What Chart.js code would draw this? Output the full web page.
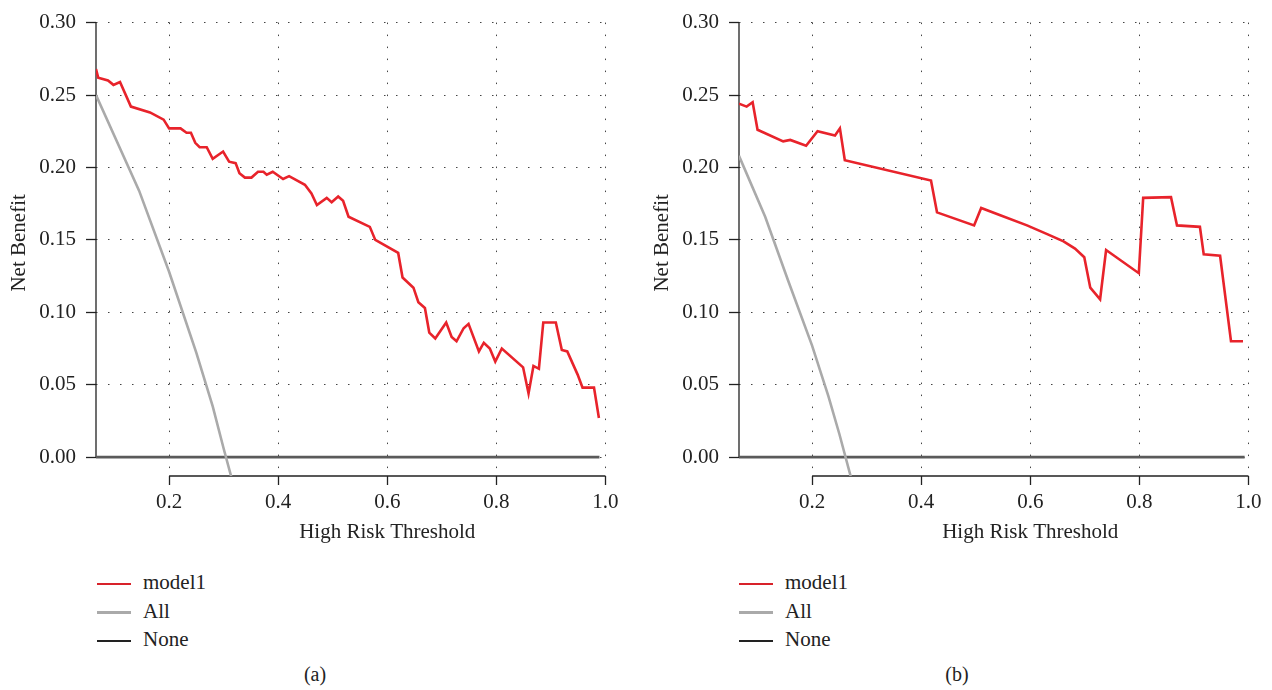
<!DOCTYPE html>
<html>
<head>
<meta charset="utf-8">
<script src="https://cdn.jsdelivr.net/npm/chart.js@4.4.1/dist/chart.umd.min.js"></script>
<style>
    body { margin:0; background:#fff; width:1272px; height:690px; overflow:hidden; position:relative;
           font-family:'Liberation Serif', serif; color:#222; }
    .panel { position:absolute; top:0; }
    .legend { position:absolute; top:568px; font-size:21px; }
    .legend div { height:28.5px; line-height:28.5px; white-space:nowrap; }
    .legend .swatch { display:inline-block; width:34px; height:2.5px; vertical-align:middle; margin-right:12px; }
    .caption { position:absolute; top:663px; width:60px; text-align:center; font-size:20px; }
</style>
</head>
<body>
<div class="panel" style="left:0;width:636px;height:555px;"><canvas id="chartA"></canvas></div>
<div class="panel" style="left:643px;width:629px;height:555px;"><canvas id="chartB"></canvas></div>
<div class="legend" id="legendA" style="left:97px;"></div>
<div class="legend" id="legendB" style="left:739px;"></div>
<div class="caption" style="left:285px;">(a)</div>
<div class="caption" style="left:927px;">(b)</div>
<script>
// ---- data ----
var seriesNames = ['model1', 'All', 'None'];
var seriesColors = ['#e8232b', '#aaaaaa', '#5a5a5a'];
var legendColors = ['#d8222a', '#aaaaaa', '#222222'];

// panel (a)
var thrA = [0.066, 0.070, 0.088, 0.098, 0.110, 0.130, 0.165, 0.190, 0.200, 0.221, 0.232, 0.240, 0.248, 0.256, 0.269,
            0.280, 0.299, 0.310, 0.322, 0.329, 0.339, 0.351, 0.363, 0.373, 0.379, 0.390, 0.409, 0.420, 0.449, 0.461,
            0.471, 0.489, 0.498, 0.510, 0.519, 0.529, 0.568, 0.578, 0.620, 0.628, 0.648, 0.657, 0.669, 0.677, 0.688,
            0.708, 0.718, 0.727, 0.740, 0.749, 0.768, 0.777, 0.788, 0.798, 0.810, 0.849, 0.859, 0.868, 0.878, 0.886,
            0.909, 0.920, 0.930, 0.949, 0.958, 0.979, 0.988];
var model1A = [0.268, 0.262, 0.260, 0.257, 0.259, 0.242, 0.238, 0.233, 0.227, 0.227, 0.224, 0.224, 0.217, 0.214, 0.214,
               0.206, 0.211, 0.204, 0.203, 0.196, 0.193, 0.193, 0.197, 0.197, 0.195, 0.197, 0.192, 0.194, 0.188, 0.182,
               0.174, 0.179, 0.176, 0.180, 0.177, 0.166, 0.159, 0.150, 0.141, 0.124, 0.117, 0.107, 0.103, 0.086, 0.082,
               0.093, 0.083, 0.080, 0.089, 0.092, 0.073, 0.079, 0.075, 0.066, 0.075, 0.062, 0.044, 0.063, 0.061, 0.093,
               0.093, 0.074, 0.073, 0.057, 0.048, 0.048, 0.027];
var allThrA = [0.066, 0.145, 0.200, 0.250, 0.280, 0.300, 0.315];
var allA = [0.250, 0.184, 0.128, 0.072, 0.035, 0.006, -0.015];
var noneThrA = [0.066, 0.989];
var noneA = [0, 0];

// panel (b)
var thrB = [0.066, 0.080, 0.091, 0.100, 0.147, 0.160, 0.189, 0.210, 0.242, 0.251, 0.260, 0.418, 0.429, 0.497, 0.510,
            0.545, 0.594, 0.631, 0.661, 0.682, 0.699, 0.710, 0.728, 0.739, 0.799, 0.807, 0.858, 0.869, 0.911, 0.918,
            0.948, 0.968, 0.990];
var model1B = [0.244, 0.242, 0.245, 0.226, 0.218, 0.219, 0.215, 0.225, 0.222, 0.227, 0.205, 0.191, 0.169, 0.160, 0.172,
               0.167, 0.160, 0.154, 0.149, 0.144, 0.138, 0.117, 0.109, 0.143, 0.127, 0.179, 0.1795, 0.160, 0.159, 0.140,
               0.139, 0.080, 0.080];
var allThrB = [0.066, 0.114, 0.156, 0.200, 0.230, 0.250, 0.272];
var allB = [0.208, 0.166, 0.122, 0.077, 0.042, 0.016, -0.015];
var noneThrB = [0.066, 0.993];
var noneB = [0, 0];

var xTitle = 'High Risk Threshold', yTitle = 'Net Benefit';
var xTickStep = 0.2, yTickStep = 0.05;
var xMin = 0.066, xMax = 1.012, yMin = -0.013, yMax = 0.30;
var xAxisFrom = 0.2, xAxisTo = 1.0;

Chart.defaults.font.family = "'Liberation Serif', serif";
Chart.defaults.font.size = 21;
Chart.defaults.color = '#222';

var toPoints = function(xs, ys){
    return xs.map(function(x, i){ return {x: x, y: ys[i]}; });
};

// base-R style axes: the lines only run from first to last tick,
// and the titles sit centred on those lines
var rAxes = {
    id: 'rAxes',
    beforeDatasetsDraw: function(chart){
        var ctx = chart.ctx, sx = chart.scales.x, sy = chart.scales.y, area = chart.chartArea;
        ctx.save();
        ctx.strokeStyle = '#222';
        ctx.lineWidth = 1.3;
        ctx.beginPath();
        ctx.moveTo(area.left, sy.getPixelForValue(0));
        ctx.lineTo(area.left, sy.getPixelForValue(yMax));
        ctx.moveTo(sx.getPixelForValue(xAxisFrom), area.bottom);
        ctx.lineTo(sx.getPixelForValue(xAxisTo), area.bottom);
        ctx.stroke();
        ctx.restore();
    },
    afterDraw: function(chart){
        var ctx = chart.ctx, sx = chart.scales.x, sy = chart.scales.y;
        ctx.save();
        ctx.fillStyle = '#222';
        ctx.font = "21px 'Liberation Serif', serif";
        ctx.textAlign = 'center';
        ctx.textBaseline = 'middle';
        ctx.fillText(xTitle, (sx.getPixelForValue(xAxisFrom) + sx.getPixelForValue(xAxisTo)) / 2, 532);
        ctx.translate(19, (sy.getPixelForValue(0) + sy.getPixelForValue(yMax)) / 2 + 3);
        ctx.rotate(-Math.PI / 2);
        ctx.fillText(yTitle, 0, 0);
        ctx.restore();
    }
};

var makeChart = function(id, rightPad, series){
    var datasets = series.map(function(s, i){
        return {
            label: seriesNames[i],
            data: toPoints(s[0], s[1]),
            borderColor: seriesColors[i],
            borderWidth: 2.6,
            pointRadius: 0,
            tension: 0,
            fill: false,
            clip: 0
        };
    });
    return new Chart(document.getElementById(id), {
        type: 'line',
        data: {datasets: datasets},
        options: {
            responsive: true,
            maintainAspectRatio: false,
            animation: false,
            layout: {padding: {top: 19, right: rightPad, left: 0, bottom: 0}},
            plugins: {legend: {display: false}, tooltip: {enabled: false}},
            scales: {
                x: {
                    type: 'linear', min: xMin, max: xMax,
                    afterFit: function(s){ s.height = 79; },
                    ticks: {stepSize: xTickStep, includeBounds: false, padding: 5,
                            callback: function(v){ return v.toFixed(1); }},
                    grid: {color: '#444', lineWidth: 1, tickLength: 9, tickColor: '#222', tickWidth: 1.3, tickBorderDash: []},
                    border: {display: false, dash: [1.5, 10.5]}
                },
                y: {
                    type: 'linear', min: yMin, max: yMax,
                    afterFit: function(s){ s.width = 96; },
                    ticks: {stepSize: yTickStep, includeBounds: false, padding: 10,
                            callback: function(v){ return v.toFixed(2); }},
                    grid: {color: '#444', lineWidth: 1, tickLength: 10, tickColor: '#222', tickWidth: 1.3, tickBorderDash: []},
                    border: {display: false, dash: [1.5, 10.5]}
                }
            }
        },
        plugins: [rAxes]
    });
};

var buildLegend = function(id){
    var box = document.getElementById(id);
    seriesNames.forEach(function(name, i){
        var row = document.createElement('div');
        var sw = document.createElement('span');
        sw.className = 'swatch';
        sw.style.background = legendColors[i];
        row.appendChild(sw);
        row.appendChild(document.createTextNode(name));
        box.appendChild(row);
    });
};

makeChart('chartA', 24, [[thrA, model1A], [allThrA, allA], [noneThrA, noneA]]);
makeChart('chartB', 17, [[thrB, model1B], [allThrB, allB], [noneThrB, noneB]]);
buildLegend('legendA');
buildLegend('legendB');
</script>
</body>
</html>
